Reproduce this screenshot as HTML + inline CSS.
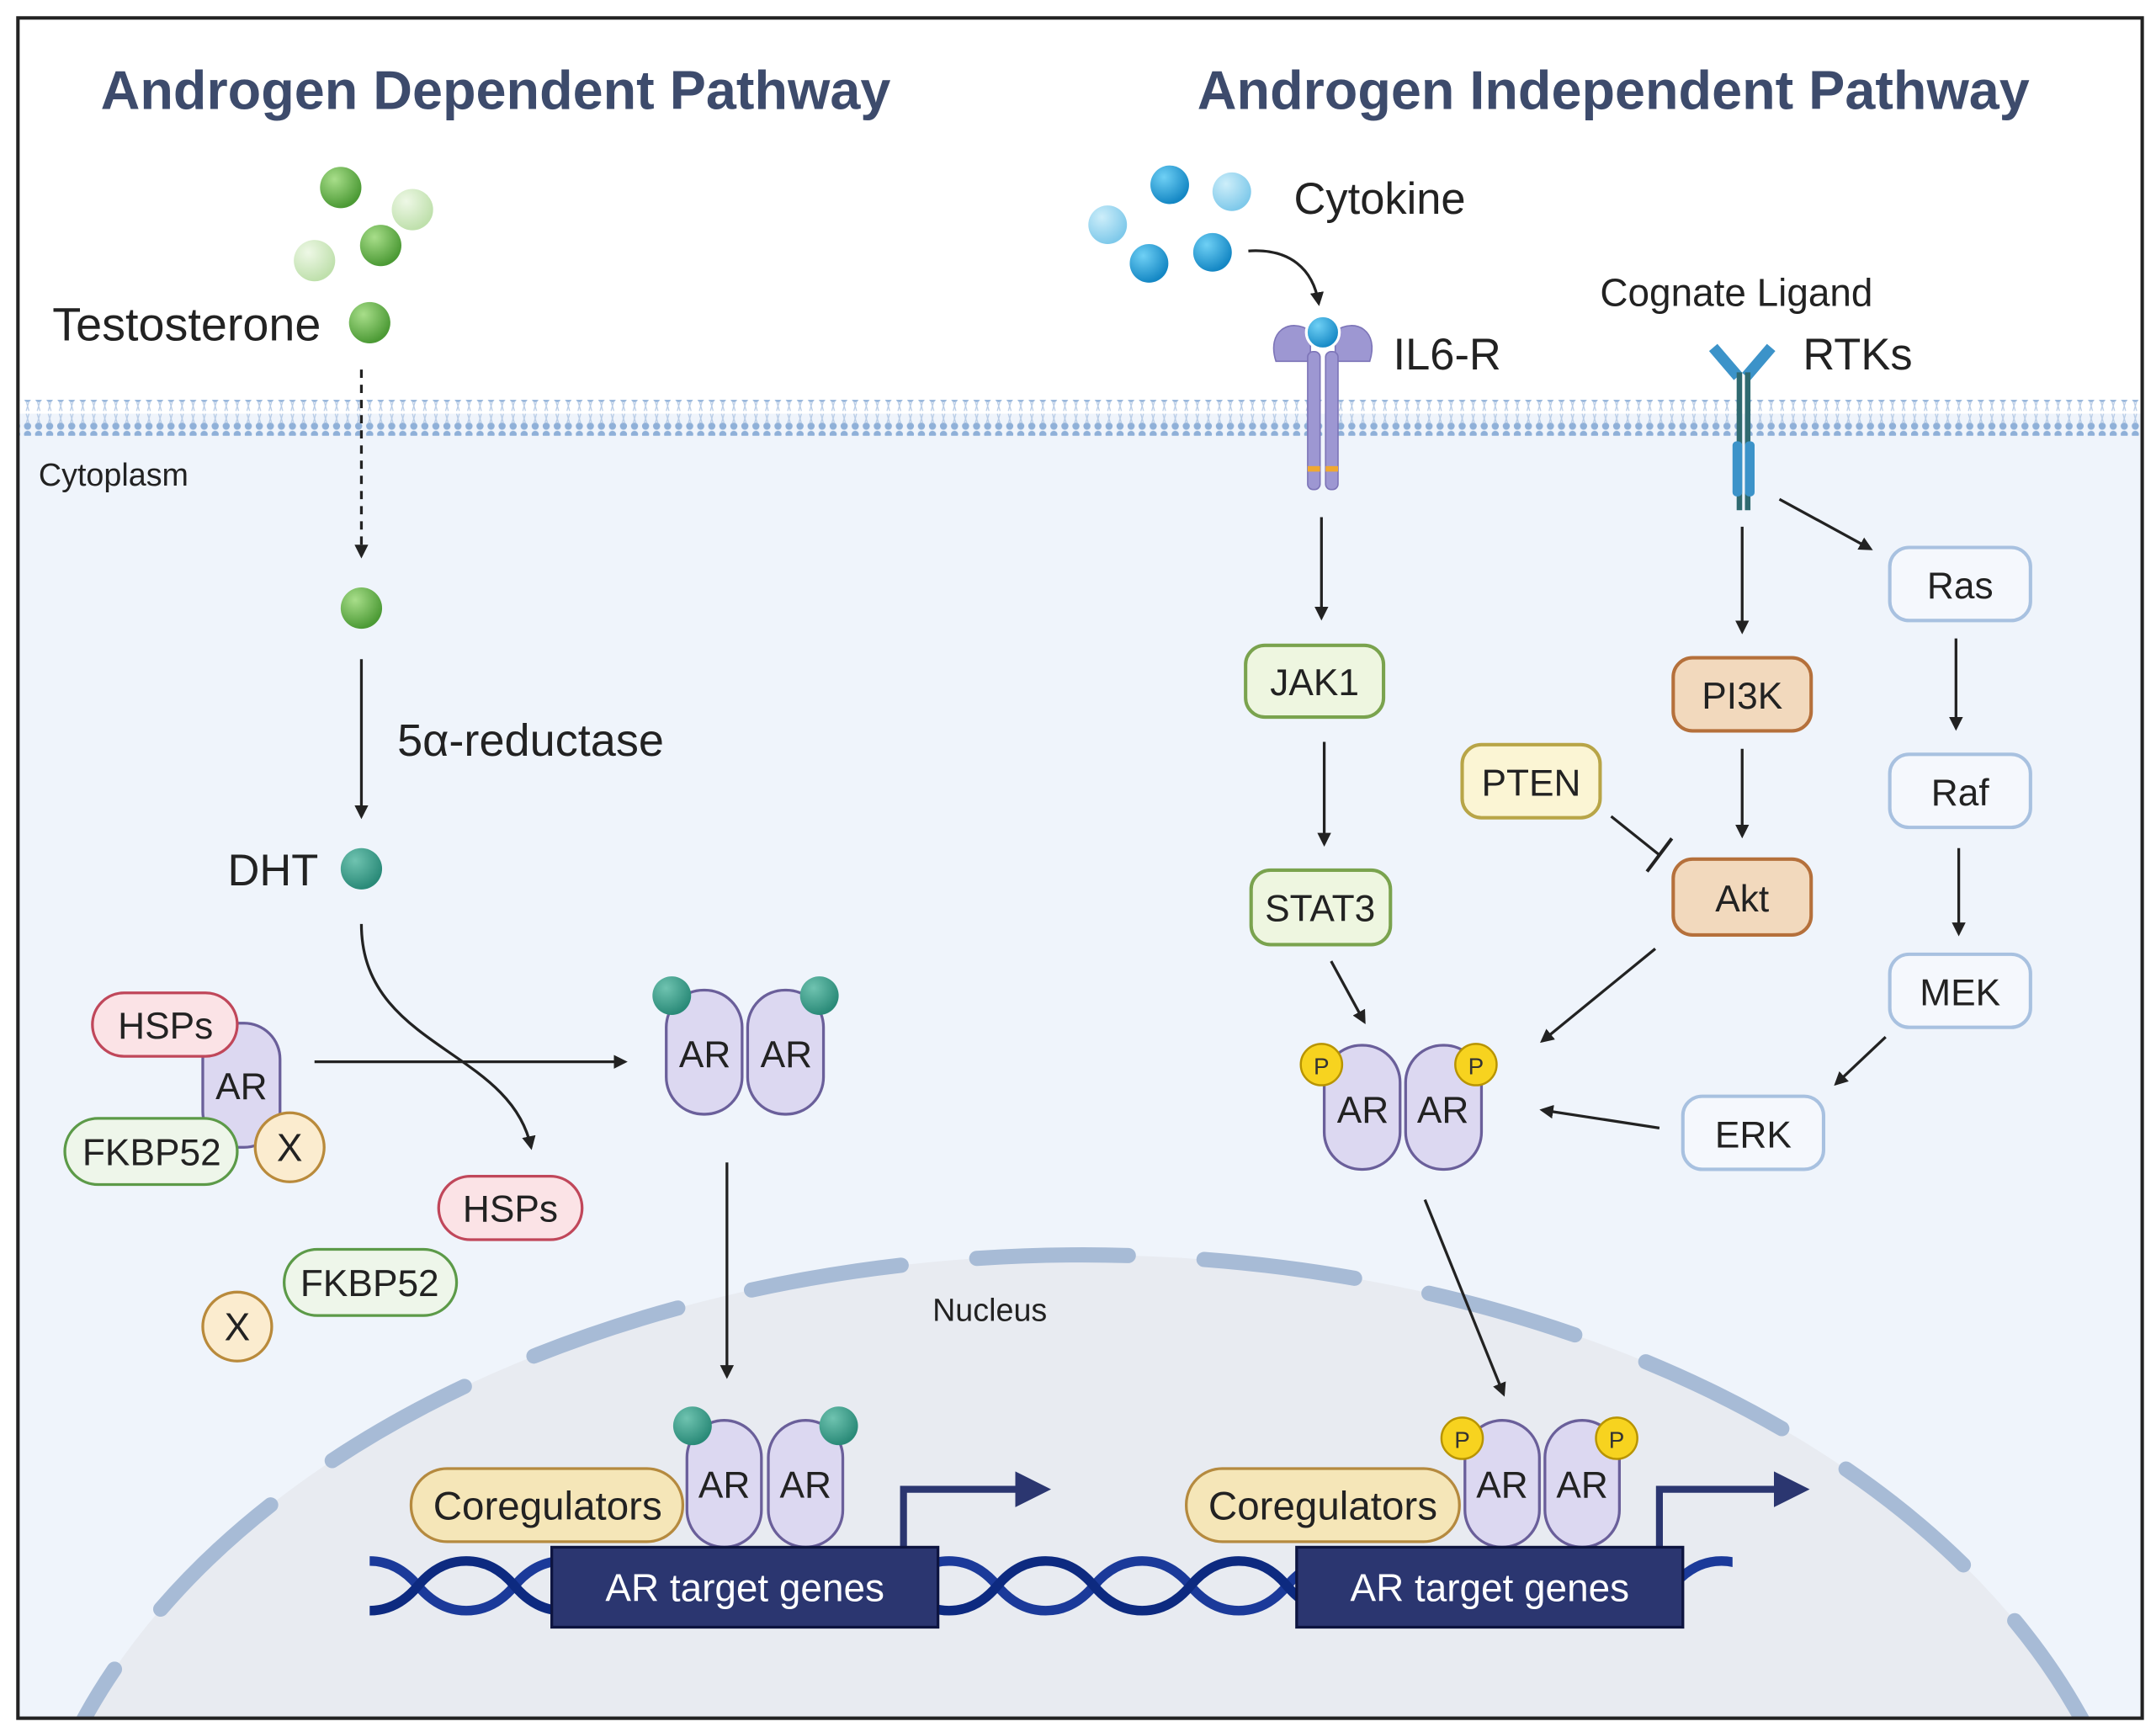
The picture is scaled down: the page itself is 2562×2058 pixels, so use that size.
<!DOCTYPE html>
<html><head><meta charset="utf-8"><style>html,body{margin:0;padding:0;background:#fff;width:2562px;height:2058px;overflow:hidden}svg{display:block}text{font-family:"Liberation Sans",sans-serif}</style></head><body>
<svg width="2562" height="2058" viewBox="0 0 1563 1256" preserveAspectRatio="none" xmlns="http://www.w3.org/2000/svg">
<defs>
<marker id="ah" markerWidth="10" markerHeight="10" refX="8" refY="5" orient="auto" markerUnits="userSpaceOnUse"><path d="M0,0 L10,5 L0,10 z" fill="#222"/></marker>
<marker id="ahb" markerWidth="26" markerHeight="26" refX="4" refY="13" orient="auto" markerUnits="userSpaceOnUse"><path d="M0,0 L26,13 L0,26 z" fill="#2b3670"/></marker>
<radialGradient id="g1" cx="35%" cy="30%" r="70%"><stop offset="0" stop-color="#a8de8a"/><stop offset="1" stop-color="#4c9a35"/></radialGradient>
<radialGradient id="g2" cx="35%" cy="30%" r="70%"><stop offset="0" stop-color="#eef8e6"/><stop offset="1" stop-color="#bfe0ac"/></radialGradient>
<radialGradient id="gt" cx="35%" cy="30%" r="70%"><stop offset="0" stop-color="#6fc3b0"/><stop offset="1" stop-color="#2a8a78"/></radialGradient>
<radialGradient id="gb" cx="35%" cy="30%" r="70%"><stop offset="0" stop-color="#6fd0f5"/><stop offset="1" stop-color="#1487c4"/></radialGradient>
<radialGradient id="gb2" cx="35%" cy="30%" r="70%"><stop offset="0" stop-color="#cdeefa"/><stop offset="1" stop-color="#7fc9ea"/></radialGradient>
<pattern id="mem" width="8" height="26" patternUnits="userSpaceOnUse"><circle cx="4" cy="3" r="2.6" fill="#8fb0d8"/><circle cx="4" cy="23" r="2.6" fill="#8fb0d8"/><path d="M3,5 L5,12 M5,5 L3,12 M3,14 L5,21 M5,14 L3,21" stroke="#b8cce6" stroke-width="0.8"/></pattern>
<clipPath id="fr"><rect x="13" y="13" width="1540" height="1233"/></clipPath>
<clipPath id="dna"><rect x="266" y="1100" width="990" height="100"/></clipPath>
</defs>
<rect x="0" y="0" width="1563" height="1256" fill="#fff"/>
<g clip-path="url(#fr)">
<rect x="13" y="300" width="1540" height="950" fill="#eff4fb"/>
<rect x="13" y="290" width="1540" height="26" fill="url(#mem)"/>
<ellipse cx="785" cy="1420" rx="770" ry="510" fill="#e8ebf1"/>
<ellipse cx="785" cy="1420" rx="770" ry="510" fill="none" stroke="#a7bbd6" stroke-width="11" stroke-linecap="round" stroke-dasharray="110 55"/>
</g>
<rect x="13" y="13" width="1540" height="1233" fill="none" stroke="#222" stroke-width="2.5"/>

<text x="73" y="79" font-size="39.5" font-weight="bold" fill="#3d4b6c">Androgen Dependent Pathway</text>
<text x="868" y="79" font-size="39.5" font-weight="bold" fill="#3d4b6c">Androgen Independent Pathway</text>

<circle cx="247" cy="136" r="15" fill="url(#g1)"/><circle cx="299" cy="152" r="15" fill="url(#g2)"/>
<circle cx="276" cy="178" r="15" fill="url(#g1)"/><circle cx="228" cy="189" r="15" fill="url(#g2)"/>
<circle cx="268" cy="234" r="15" fill="url(#g1)"/>
<text x="38" y="247" font-size="34" fill="#222">Testosterone</text>
<line x1="262" y1="268" x2="262" y2="403" stroke="#222" stroke-width="2" stroke-dasharray="6 5" marker-end="url(#ah)"/>
<circle cx="262" cy="441" r="15" fill="url(#g1)"/>
<line x1="262" y1="478" x2="262" y2="592" stroke="#222" stroke-width="2" marker-end="url(#ah)"/>
<text x="288" y="548" font-size="33" fill="#222">5α-reductase</text>
<text x="165" y="642" font-size="32" fill="#222">DHT</text>
<circle cx="262" cy="630" r="15" fill="url(#gt)"/>
<path d="M262,670 C262,760 370,760 385,832" fill="none" stroke="#222" stroke-width="2" marker-end="url(#ah)"/>
<line x1="228" y1="770" x2="453" y2="770" stroke="#222" stroke-width="2" marker-end="url(#ah)"/>
<text x="28" y="352" font-size="23" fill="#222">Cytoplasm</text>

<rect x="147" y="742" width="56" height="90" rx="26" fill="#dcd8f1" stroke="#6a5f9a" stroke-width="2"/>
<text x="175" y="797" font-size="27" text-anchor="middle" fill="#222">AR</text>
<rect x="67" y="720" width="105" height="46" rx="23" fill="#fbe3e6" stroke="#c0475a" stroke-width="2"/>
<text x="120" y="753" font-size="27" text-anchor="middle" fill="#222">HSPs</text>
<rect x="47" y="811" width="125" height="48" rx="24" fill="#eef6ea" stroke="#5c9a48" stroke-width="2"/>
<text x="110" y="845" font-size="27" text-anchor="middle" fill="#222">FKBP52</text>
<circle cx="210" cy="832" r="25" fill="#fbeccf" stroke="#b98a3b" stroke-width="2"/>
<text x="210" y="842" font-size="28" text-anchor="middle" fill="#222">X</text>
<rect x="318" y="853" width="104" height="46" rx="23" fill="#fbe3e6" stroke="#c0475a" stroke-width="2"/>
<text x="370" y="886" font-size="27" text-anchor="middle" fill="#222">HSPs</text>
<rect x="206" y="906" width="125" height="48" rx="24" fill="#eef6ea" stroke="#5c9a48" stroke-width="2"/>
<text x="268" y="940" font-size="27" text-anchor="middle" fill="#222">FKBP52</text>
<circle cx="172" cy="962" r="25" fill="#fbeccf" stroke="#b98a3b" stroke-width="2"/>
<text x="172" y="972" font-size="28" text-anchor="middle" fill="#222">X</text>

<rect x="483" y="718" width="55" height="90" rx="27" fill="#dcd8f1" stroke="#6a5f9a" stroke-width="2"/>
<rect x="542" y="718" width="55" height="90" rx="27" fill="#dcd8f1" stroke="#6a5f9a" stroke-width="2"/>
<text x="511" y="774" font-size="27" text-anchor="middle" fill="#222">AR</text>
<text x="570" y="774" font-size="27" text-anchor="middle" fill="#222">AR</text>
<circle cx="487" cy="722" r="14" fill="url(#gt)"/><circle cx="594" cy="722" r="14" fill="url(#gt)"/>
<line x1="527" y1="843" x2="527" y2="998" stroke="#222" stroke-width="2" marker-end="url(#ah)"/>
<text x="676" y="958" font-size="23" fill="#222">Nucleus</text>

<g fill="none" stroke-width="7" clip-path="url(#dna)">
<path d="M268,1132 q20,0 35,18 t35,18 t35,-18 t35,-18 t35,18 t35,18 t35,-18 t35,-18 t35,18 t35,18 t35,-18 t35,-18 t35,18 t35,18 t35,-18 t35,-18 t35,18 t35,18 t35,-18 t35,-18 t35,18 t35,18 t35,-18 t35,-18 t35,18 t35,18 t35,-18 t35,-18 t35,18 t35,18" stroke="#1b3a9a"/>
<path d="M268,1168 q20,0 35,-18 t35,-18 t35,18 t35,18 t35,-18 t35,-18 t35,18 t35,18 t35,-18 t35,-18 t35,18 t35,18 t35,-18 t35,-18 t35,18 t35,18 t35,-18 t35,-18 t35,18 t35,18 t35,-18 t35,-18 t35,18 t35,18 t35,-18 t35,-18" stroke="#0d2a80"/>
</g>

<path d="M655,1122 V1080 H740" fill="none" stroke="#2b3670" stroke-width="5" marker-end="url(#ahb)"/>
<rect x="298" y="1065" width="197" height="53" rx="26" fill="#f5e6b8" stroke="#b58a3f" stroke-width="2"/>
<text x="397" y="1102" font-size="29" text-anchor="middle" fill="#222">Coregulators</text>
<rect x="498" y="1030" width="54" height="92" rx="27" fill="#dcd8f1" stroke="#6a5f9a" stroke-width="2"/>
<rect x="557" y="1030" width="54" height="92" rx="27" fill="#dcd8f1" stroke="#6a5f9a" stroke-width="2"/>
<text x="525" y="1086" font-size="27" text-anchor="middle" fill="#222">AR</text>
<text x="584" y="1086" font-size="27" text-anchor="middle" fill="#222">AR</text>
<circle cx="502" cy="1034" r="14" fill="url(#gt)"/><circle cx="608" cy="1034" r="14" fill="url(#gt)"/>
<rect x="400" y="1122" width="280" height="58" fill="#2b3670" stroke="#0d1440" stroke-width="2"/>
<text x="540" y="1161" font-size="28" text-anchor="middle" fill="#fff">AR target genes</text>

<path d="M1203,1122 V1080 H1290" fill="none" stroke="#2b3670" stroke-width="5" marker-end="url(#ahb)"/>
<rect x="860" y="1065" width="198" height="53" rx="26" fill="#f5e6b8" stroke="#b58a3f" stroke-width="2"/>
<text x="959" y="1102" font-size="29" text-anchor="middle" fill="#222">Coregulators</text>
<rect x="1062" y="1030" width="54" height="92" rx="27" fill="#dcd8f1" stroke="#6a5f9a" stroke-width="2"/>
<rect x="1120" y="1030" width="54" height="92" rx="27" fill="#dcd8f1" stroke="#6a5f9a" stroke-width="2"/>
<text x="1089" y="1086" font-size="27" text-anchor="middle" fill="#222">AR</text>
<text x="1147" y="1086" font-size="27" text-anchor="middle" fill="#222">AR</text>
<circle cx="1060" cy="1043" r="15" fill="#f7d31f" stroke="#b89400" stroke-width="1.5"/><text x="1060" y="1050" font-size="17" text-anchor="middle" fill="#333">P</text>
<circle cx="1172" cy="1043" r="15" fill="#f7d31f" stroke="#b89400" stroke-width="1.5"/><text x="1172" y="1050" font-size="17" text-anchor="middle" fill="#333">P</text>
<rect x="940" y="1122" width="280" height="58" fill="#2b3670" stroke="#0d1440" stroke-width="2"/>
<text x="1080" y="1161" font-size="28" text-anchor="middle" fill="#fff">AR target genes</text>

<circle cx="848" cy="134" r="14" fill="url(#gb)"/><circle cx="893" cy="139" r="14" fill="url(#gb2)"/>
<circle cx="803" cy="163" r="14" fill="url(#gb2)"/><circle cx="833" cy="191" r="14" fill="url(#gb)"/>
<circle cx="879" cy="183" r="14" fill="url(#gb)"/>
<text x="938" y="155" font-size="32" fill="#222">Cytokine</text>
<path d="M905,182 C935,180 952,195 956,220" fill="none" stroke="#222" stroke-width="2" marker-end="url(#ah)"/>
<path d="M925,262 C918,240 935,230 950,240 L950,262 Z" fill="#9d97d2" stroke="#7d75b8"/>
<path d="M993,262 C1000,240 983,230 968,240 L968,262 Z" fill="#9d97d2" stroke="#7d75b8"/>
<rect x="948" y="255" width="9" height="100" rx="4" fill="#9d97d2" stroke="#7d75b8"/>
<rect x="961" y="255" width="9" height="100" rx="4" fill="#9d97d2" stroke="#7d75b8"/>
<rect x="948" y="338" width="9" height="4" fill="#f0a830"/><rect x="961" y="338" width="9" height="4" fill="#f0a830"/>
<circle cx="959" cy="241" r="12" fill="url(#gb)" stroke="#fff" stroke-width="2"/>
<text x="1010" y="268" font-size="32" fill="#222">IL6-R</text>
<text x="1160" y="222" font-size="28" fill="#222">Cognate Ligand</text>
<path d="M1242,252 L1260,273 M1284,252 L1266,273" stroke="#3c93c9" stroke-width="8"/>
<rect x="1259" y="270" width="4" height="100" fill="#2f6a70"/><rect x="1265" y="270" width="4" height="100" fill="#2f6a70"/>
<rect x="1256" y="320" width="7" height="40" rx="3" fill="#3c93c9"/><rect x="1265" y="320" width="7" height="40" rx="3" fill="#3c93c9"/>
<text x="1307" y="268" font-size="32" fill="#222">RTKs</text>

<g stroke="#222" stroke-width="2" marker-end="url(#ah)">
<line x1="958" y1="375" x2="958" y2="448"/>
<line x1="960" y1="538" x2="960" y2="612"/>
<line x1="965" y1="697" x2="989" y2="741"/>
<line x1="1263" y1="382" x2="1263" y2="458"/>
<line x1="1263" y1="543" x2="1263" y2="606"/>
<line x1="1200" y1="688" x2="1118" y2="755"/>
<line x1="1290" y1="362" x2="1356" y2="398"/>
<line x1="1418" y1="463" x2="1418" y2="528"/>
<line x1="1420" y1="615" x2="1420" y2="677"/>
<line x1="1367" y1="752" x2="1331" y2="786"/>
<line x1="1203" y1="818" x2="1118" y2="805"/>
<line x1="1033" y1="870" x2="1090" y2="1011"/>
</g>
<line x1="1168" y1="592" x2="1203" y2="620" stroke="#222" stroke-width="2"/>
<line x1="1194" y1="632" x2="1212" y2="608" stroke="#222" stroke-width="2.5"/>

<rect x="903" y="468" width="100" height="52" rx="14" fill="#eef6e0" stroke="#7aa34e" stroke-width="2.5"/>
<text x="953" y="504" font-size="27" text-anchor="middle" fill="#222">JAK1</text>
<rect x="907" y="631" width="101" height="54" rx="14" fill="#eef6e0" stroke="#7aa34e" stroke-width="2.5"/>
<text x="957" y="668" font-size="27" text-anchor="middle" fill="#222">STAT3</text>
<rect x="1213" y="477" width="100" height="53" rx="14" fill="#f2d9bd" stroke="#b5703b" stroke-width="2.5"/>
<text x="1263" y="514" font-size="27" text-anchor="middle" fill="#222">PI3K</text>
<rect x="1213" y="623" width="100" height="55" rx="14" fill="#f2d9bd" stroke="#b5703b" stroke-width="2.5"/>
<text x="1263" y="661" font-size="27" text-anchor="middle" fill="#222">Akt</text>
<rect x="1060" y="540" width="100" height="53" rx="14" fill="#fbf5d4" stroke="#b8a547" stroke-width="2.5"/>
<text x="1110" y="577" font-size="27" text-anchor="middle" fill="#222">PTEN</text>
<rect x="1370" y="397" width="102" height="53" rx="14" fill="#f5f8fd" stroke="#a8c1e0" stroke-width="2.5"/>
<text x="1421" y="434" font-size="27" text-anchor="middle" fill="#222">Ras</text>
<rect x="1370" y="547" width="102" height="53" rx="14" fill="#f5f8fd" stroke="#a8c1e0" stroke-width="2.5"/>
<text x="1421" y="584" font-size="27" text-anchor="middle" fill="#222">Raf</text>
<rect x="1370" y="692" width="102" height="53" rx="14" fill="#f5f8fd" stroke="#a8c1e0" stroke-width="2.5"/>
<text x="1421" y="729" font-size="27" text-anchor="middle" fill="#222">MEK</text>
<rect x="1220" y="795" width="102" height="53" rx="14" fill="#f5f8fd" stroke="#a8c1e0" stroke-width="2.5"/>
<text x="1271" y="832" font-size="27" text-anchor="middle" fill="#222">ERK</text>

<rect x="960" y="758" width="55" height="90" rx="27" fill="#dcd8f1" stroke="#6a5f9a" stroke-width="2"/>
<rect x="1019" y="758" width="55" height="90" rx="27" fill="#dcd8f1" stroke="#6a5f9a" stroke-width="2"/>
<text x="988" y="814" font-size="27" text-anchor="middle" fill="#222">AR</text>
<text x="1046" y="814" font-size="27" text-anchor="middle" fill="#222">AR</text>
<circle cx="958" cy="772" r="15" fill="#f7d31f" stroke="#b89400" stroke-width="1.5"/><text x="958" y="779" font-size="17" text-anchor="middle" fill="#333">P</text>
<circle cx="1070" cy="772" r="15" fill="#f7d31f" stroke="#b89400" stroke-width="1.5"/><text x="1070" y="779" font-size="17" text-anchor="middle" fill="#333">P</text>
</svg>
</body></html>
